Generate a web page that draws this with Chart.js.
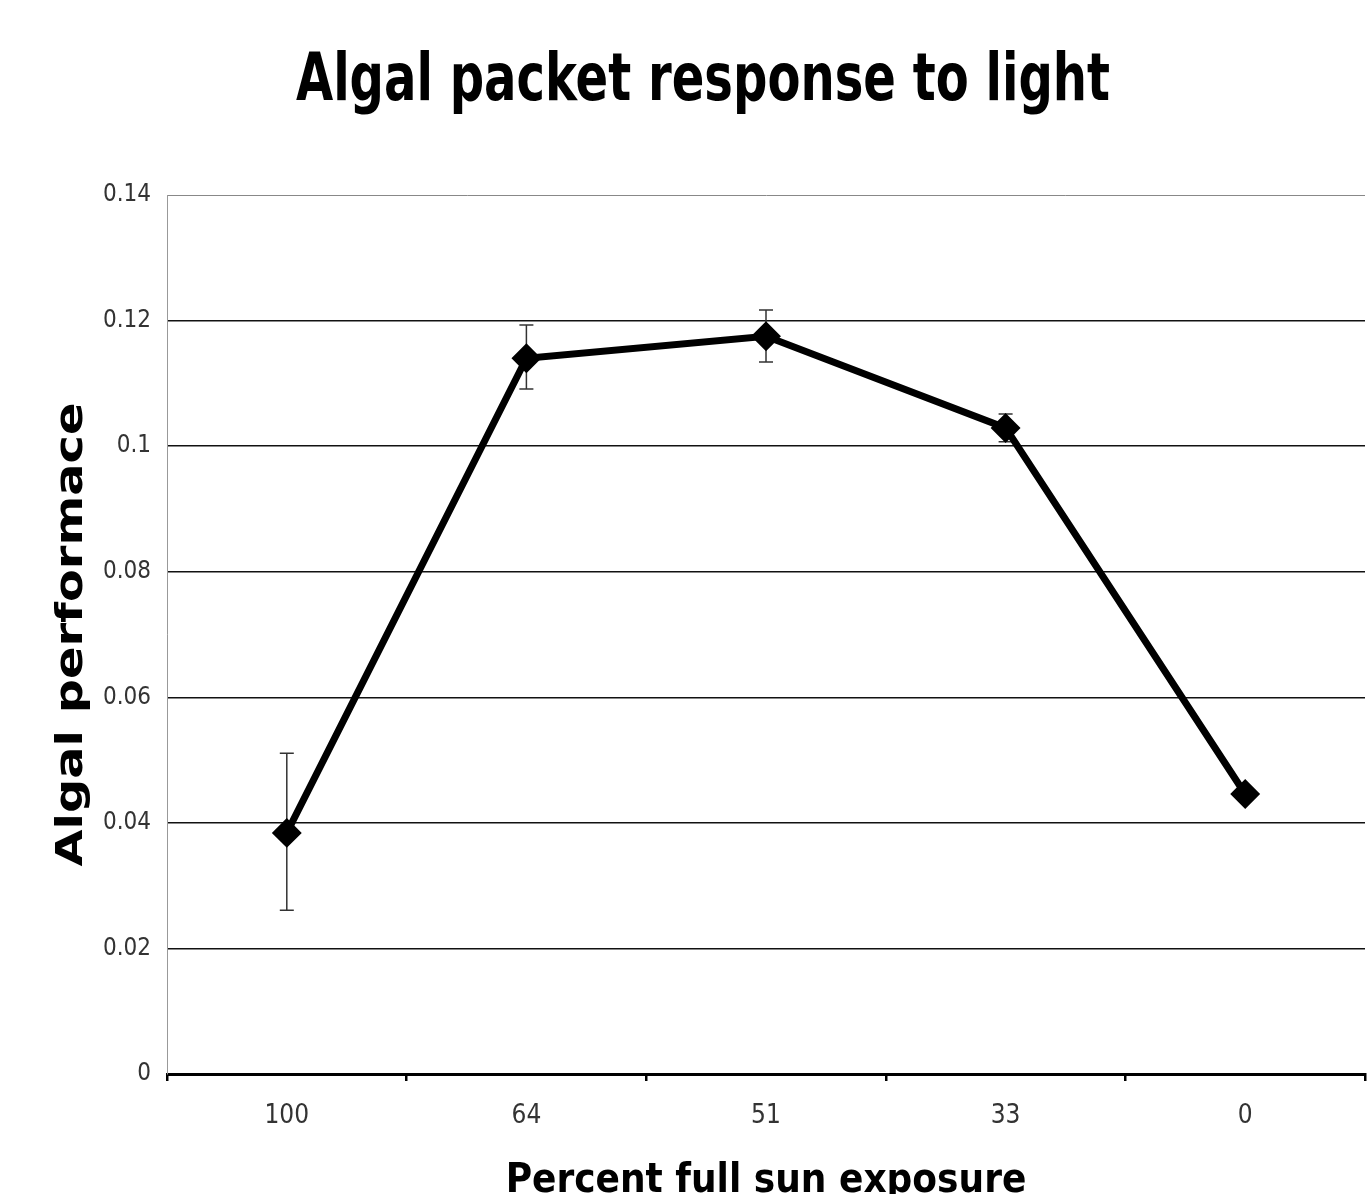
<!DOCTYPE html>
<html>
<head>
<meta charset="utf-8">
<script src="https://cdn.jsdelivr.net/npm/chart.js@4"></script>
<style>
  html, body { margin: 0; padding: 0; background: #fff; overflow: hidden; }
  #wrap { width: 1382px; height: 1230px; }
</style>
</head>
<body>
<div id="wrap"><canvas id="grafico" width="1382" height="1230"></canvas></div>
<script>
// dados
const sunExposure = ['100', '64', '51', '33', '0']
const performance = [0.0384, 0.1140, 0.1175, 0.1029, 0.0446]
const errUpper = [0.0511, 0.1193, 0.1217, 0.1051, 0.0452]
const errLower = [0.0261, 0.1091, 0.1134, 0.1007, 0.0440]
const yTicks = [0, 0.02, 0.04, 0.06, 0.08, 0.1, 0.12, 0.14]

const chartTitle = 'Algal packet response to light'
const yTitle = 'Algal performace'
const xTitle = 'Percent full sun exposure'

const narrow = 'Liberation Sans Narrow, DejaVu Sans Condensed, sans-serif'

// barras de erro desenhadas com as escalas do chart
const errorBars = {
    id: 'errorBars',
    beforeDatasetsDraw(chart) {
        const { ctx, scales: { y } } = chart
        const meta = chart.getDatasetMeta(0)
        ctx.save()
        ctx.strokeStyle = '#333'
        ctx.lineWidth = 1.5
        meta.data.forEach((pt, i) => {
            const top = y.getPixelForValue(errUpper[i])
            const bot = y.getPixelForValue(errLower[i])
            ctx.beginPath()
            ctx.moveTo(pt.x, top); ctx.lineTo(pt.x, bot)
            ctx.moveTo(pt.x - 7, top); ctx.lineTo(pt.x + 7, top)
            ctx.moveTo(pt.x - 7, bot); ctx.lineTo(pt.x + 7, bot)
            ctx.stroke()
        })
        ctx.restore()
    }
}

// títulos com fonte esticada/comprimida como no original
const stretchedTitles = {
    id: 'stretchedTitles',
    afterDraw(chart) {
        const { ctx, chartArea } = chart
        ctx.save()
        ctx.fillStyle = '#000'
        ctx.textAlign = 'center'

        // título principal (comprimido na horizontal)
        ctx.save()
        ctx.translate(703, 100)
        ctx.scale(0.81, 1)
        ctx.font = 'bold 66px ' + narrow
        ctx.textBaseline = 'alphabetic'
        ctx.fillText(chartTitle, 0, 0)
        ctx.restore()

        // título do eixo y (girado e esticado)
        ctx.save()
        ctx.translate(72, (chartArea.top + chartArea.bottom) / 2)
        ctx.rotate(-Math.PI / 2)
        ctx.scale(1.26, 1)
        ctx.font = 'bold 38px DejaVu Sans, Verdana, sans-serif'
        ctx.textBaseline = 'middle'
        ctx.fillText(yTitle, 0, 0)
        ctx.restore()

        ctx.restore()
    }
}

const ctx = document.querySelector('#grafico')
const chart = new Chart(ctx, {
    type: 'line',
    data: {
        labels: sunExposure,
        datasets: [{
            label: yTitle,
            data: performance,
            borderColor: '#000',
            backgroundColor: '#000',
            borderWidth: 7,
            pointStyle: 'rectRot',
            pointRadius: 10,
            pointBackgroundColor: '#000',
            pointBorderColor: '#000',
            tension: 0
        }]
    },
    options: {
        responsive: false,
        animation: false,
        layout: { padding: { left: 38, right: 0, top: 195, bottom: 0 } },
        plugins: {
            legend: { display: false },
            tooltip: { enabled: false },
            title: { display: false }
        },
        scales: {
            x: {
                offset: true,
                grid: {
                    offset: true,
                    drawOnChartArea: false,
                    drawTicks: true,
                    tickLength: 7,
                    color: '#000',
                    lineWidth: 2.5
                },
                border: { display: true, color: '#000', width: 3 },
                ticks: { color: '#333', font: { family: narrow, size: 26 }, padding: 20 },
                title: {
                    display: true,
                    text: xTitle,
                    color: '#000',
                    font: { family: narrow, size: 40, weight: 'bold' },
                    padding: { top: 0, bottom: 24 }
                },
                afterFit: (scale) => { scale.height = 156 }
            },
            y: {
                min: 0,
                max: 0.14,
                afterBuildTicks: (scale) => { scale.ticks = yTicks.map(v => ({ value: v })) },
                grid: {
                    drawTicks: false,
                    color: (c) => c.tick && c.tick.value === 0.14 ? '#888' : '#111',
                    lineWidth: (c) => c.tick && c.tick.value === 0.14 ? 1 : 1.5
                },
                border: { display: true, color: '#999', width: 1 },
                ticks: {
                    color: '#333',
                    font: { family: 'DejaVu Sans Condensed, Liberation Sans Narrow, sans-serif', size: 24 },
                    padding: 16,
                    callback: (v) => String(Math.round(v * 100) / 100)
                },
                title: { display: false },
                afterFit: (scale) => { scale.width = 167 - 38 }
            }
        }
    },
    plugins: [errorBars, stretchedTitles]
})
</script>
</body>
</html>
